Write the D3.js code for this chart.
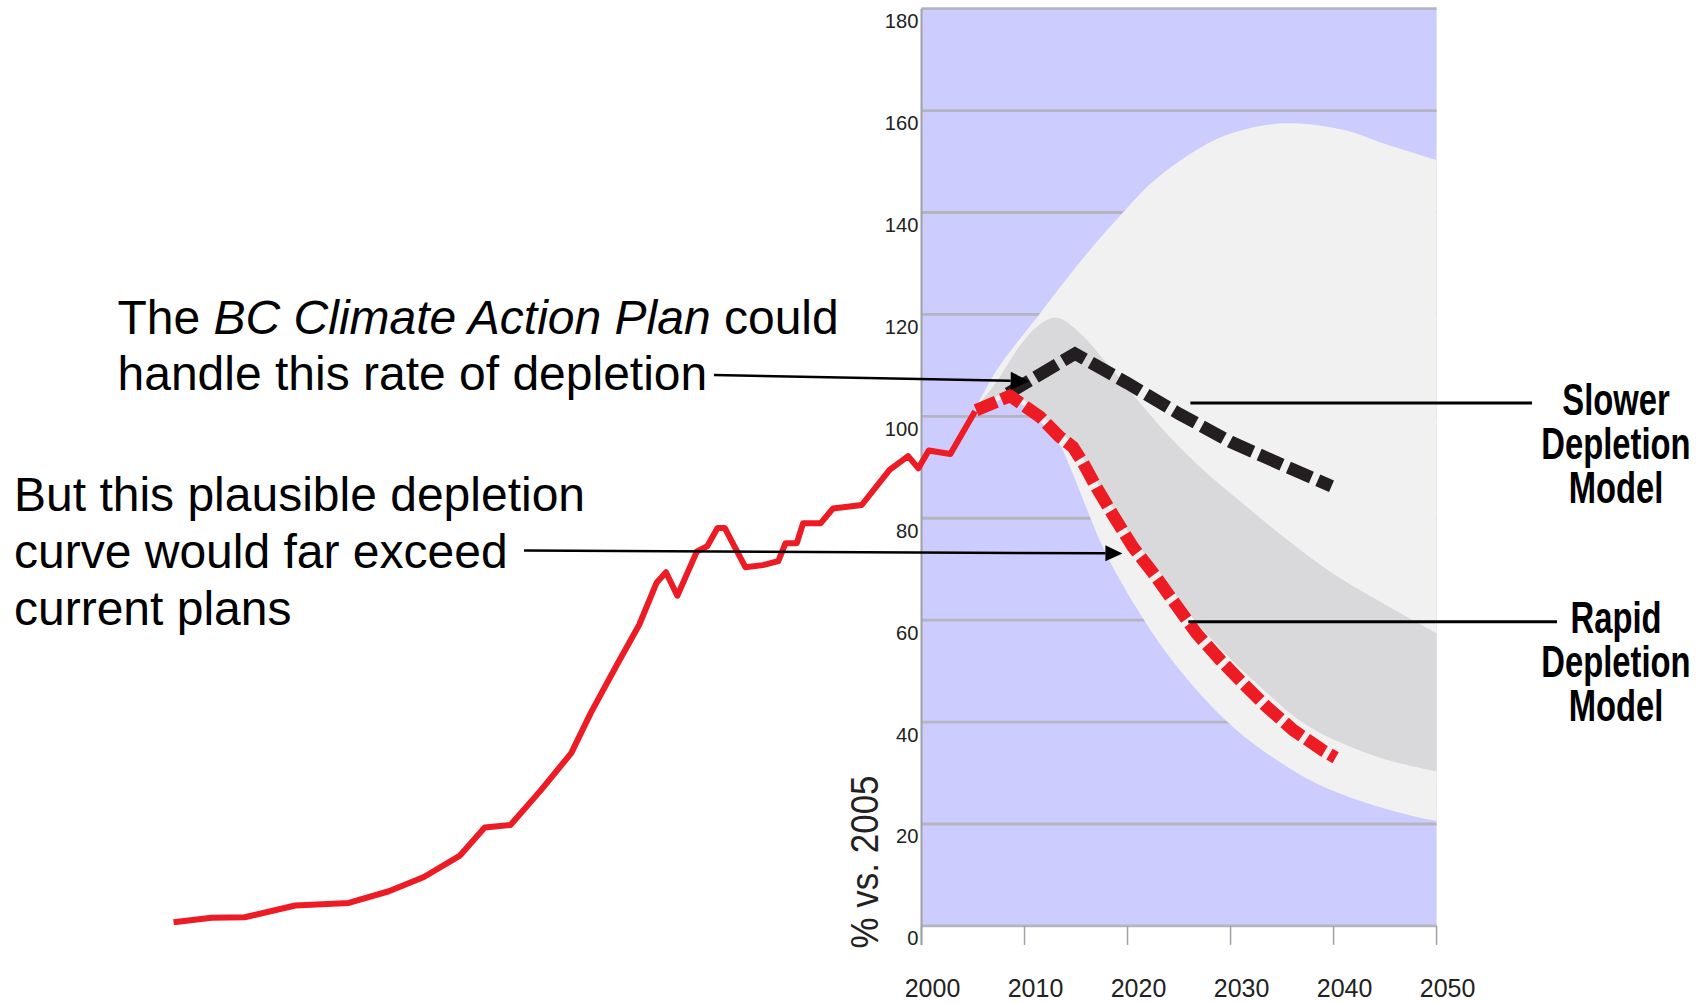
<!DOCTYPE html>
<html><head><meta charset="utf-8">
<script src="https://cdn.jsdelivr.net/npm/d3@7"></script>
<style>
html,body{margin:0;padding:0;background:#fff;}
svg{display:block;}
text{font-family:"Liberation Sans",Arial,Helvetica,sans-serif;}
</style>
</head><body>
<svg id="chart" width="1704" height="1003"></svg>
<script>
// ---------- data ----------
const yTicks = [0, 20, 40, 60, 80, 100, 120, 140, 160, 180];
const xTicks = [2000, 2010, 2020, 2030, 2040, 2050];
const yTitle = "% vs. 2005";

const histYears  = [1927.4, 1931.1, 1934.3, 1939.2, 1944.4, 1948.3, 1951.7, 1955.2, 1957.6, 1960.1, 1963.0, 1966.0, 1967.9, 1970.4, 1972.6, 1974.3, 1975.2, 1976.3, 1978.2, 1979.2, 1980.2, 1980.9, 1982.9, 1984.6, 1986.1, 1986.8, 1987.9, 1988.5, 1990.2, 1991.4, 1994.2, 1996.9, 1998.7, 1999.7, 2000.7, 2002.8, 2005.2];
const histValues = [0.7, 1.6, 1.7, 4.0, 4.5, 6.8, 9.6, 13.8, 19.3, 19.8, 26.5, 33.9, 41.8, 51.1, 59.1, 67.4, 69.4, 64.8, 73.5, 74.5, 78.1, 78.1, 70.4, 70.8, 71.6, 75.1, 75.1, 79.0, 79.0, 81.9, 82.6, 89.5, 92.2, 89.8, 93.3, 92.6, 101.0];

const rapidYears  = [2005.3, 2008.6, 2011.5, 2013.4, 2014.7, 2015.7, 2017.0, 2018.6, 2020.5, 2022.5, 2024.6, 2026.7, 2029.0, 2031.2, 2033.5, 2036.1, 2039.0, 2040.2];
const rapidValues = [101.2, 104.0, 99.9, 96.0, 94.0, 90.8, 86.0, 80.6, 74.4, 69.2, 63.3, 57.4, 52.2, 47.6, 43.0, 38.4, 34.4, 33.0];

const slowerYears  = [2008.4, 2014.9, 2020.0, 2025.0, 2030.0, 2035.0, 2039.8];
const slowerValues = [104.5, 112.3, 106.5, 100.5, 95.0, 90.5, 86.3];

// outer (light) envelope
const outerUpYears  = [2005.2, 2006.0, 2007.3, 2009.2, 2011.5, 2013.9, 2016.0, 2018.0, 2020.0, 2022.2, 2025.4, 2028.6, 2031.9, 2035.1, 2038.3, 2041.6, 2044.8, 2050];
const outerUpValues = [101.5, 104.5, 109.1, 114.3, 120.2, 126.5, 131.8, 136.5, 141.0, 145.6, 150.6, 154.4, 156.6, 157.5, 157.2, 155.9, 153.6, 150.3];
const outerLoYears  = [2005.2, 2008.6, 2011.5, 2013.4, 2014.4, 2015.7, 2017.3, 2018.9, 2021.2, 2023.8, 2027.0, 2030.2, 2033.5, 2038.3, 2043.2, 2048.0, 2050];
const outerLoValues = [101.0, 103.5, 99.0, 94.5, 90.1, 83.6, 75.7, 69.2, 61.3, 53.5, 45.6, 39.1, 33.9, 28.0, 24.1, 21.4, 20.6];

// inner (dark) envelope
const innerUpYears  = [2005.2, 2007.0, 2008.3, 2009.6, 2011.2, 2013.1, 2015.4, 2018.0, 2021.2, 2024.4, 2027.0, 2028.0, 2031.2, 2035.1, 2039.9, 2044.8, 2050];
const innerUpValues = [101.5, 106.0, 110.0, 114.0, 117.6, 119.4, 116.3, 110.4, 102.6, 95.3, 90.1, 88.3, 82.9, 76.4, 69.2, 63.3, 57.4];
const innerLoYears  = [2005.2, 2008.6, 2011.5, 2013.4, 2014.7, 2015.7, 2017.0, 2018.6, 2020.5, 2022.5, 2024.6, 2026.7, 2029.0, 2031.2, 2033.5, 2036.1, 2039.0, 2040.3, 2044.8, 2050];
const innerLoValues = [101.5, 104.5, 100.5, 96.8, 94.8, 91.8, 87.2, 82.0, 76.0, 71.0, 65.2, 59.5, 54.5, 50.0, 45.8, 41.2, 37.5, 36.3, 32.8, 30.3];

// annotation anchors (data coordinates)
const arrow1Tip = [2010.5, 106.9];
const arrow2Tip = [2019.5, 73.1];
const slowerLeaderStart = [2026.1, 102.6];
const rapidLeaderStart  = [2025.9, 59.7];

const note1Lines = [
  [{t:"The ", i:false}, {t:"BC Climate Action Plan", i:true}, {t:" could", i:false}],
  [{t:"handle this rate of depletion", i:false}]
];
const note2Lines = ["But this plausible depletion", "curve would far exceed", "current plans"];
const slowerLabel = ["Slower", "Depletion", "Model"];
const rapidLabel  = ["Rapid", "Depletion", "Model"];

// ---------- drawing ----------
const svg = d3.select("#chart");
const x = d3.scaleLinear().domain([2000, 2050]).range([921.5, 1436.6]);
const y = d3.scaleLinear().domain([0, 180]).range([925.9, 8.7]);

const C = {
  blue: "#ccccff", light: "#f1f1f1", dark: "#d9d9db",
  red: "#ed1c24", black: "#231f20", grid: "#b5b5c0", axis: "#a0a0aa"
};

// plot background
svg.append("rect")
  .attr("x", x(2000)).attr("y", y(180))
  .attr("width", x(2050) - x(2000)).attr("height", y(0) - y(180))
  .attr("fill", C.blue);

// gridlines
svg.append("g").selectAll("line").data(yTicks).join("line")
  .attr("x1", x(2000)).attr("x2", x(2050))
  .attr("y1", d => y(d)).attr("y2", d => y(d))
  .attr("stroke", C.grid).attr("stroke-width", 2.8);

// bands
const smooth = d3.line().x(d => x(d[0])).y(d => y(d[1])).curve(d3.curveCatmullRom.alpha(0.5));
function bandPath(upX, upV, loX, loV) {
  const up = smooth(d3.zip(upX, upV));
  const lo = smooth(d3.zip(loX, loV).reverse());
  return up + "L" + lo.slice(1) + "Z";
}
svg.append("path").attr("d", bandPath(outerUpYears, outerUpValues, outerLoYears, outerLoValues)).attr("fill", C.light);
svg.append("path").attr("d", bandPath(innerUpYears, innerUpValues, innerLoYears, innerLoValues)).attr("fill", C.dark);

// axes lines and ticks
svg.append("line").attr("x1", x(2000)).attr("x2", x(2000)).attr("y1", y(180)).attr("y2", y(0) + 19)
  .attr("stroke", C.axis).attr("stroke-width", 2);
svg.append("g").selectAll("line").data(xTicks).join("line")
  .attr("x1", d => x(d)).attr("x2", d => x(d))
  .attr("y1", y(0)).attr("y2", y(0) + 19)
  .attr("stroke", C.axis).attr("stroke-width", 1.5);

// y tick labels
svg.append("g").selectAll("text").data(yTicks).join("text")
  .attr("transform", d => `translate(${x(2000) - 3},${y(d) + 19.5}) scale(0.96,1)`)
  .attr("text-anchor", "end").attr("font-size", 21).attr("fill", "#222")
  .text(d => d);

// x tick labels
svg.append("g").selectAll("text").data(xTicks).join("text")
  .attr("x", d => x(d) + 11).attr("y", 997)
  .attr("text-anchor", "middle").attr("font-size", 25).attr("fill", "#222")
  .text(d => d);

// y title
svg.append("text")
  .attr("transform", `translate(878,948.5) rotate(-90) scale(1,1.12)`)
  .attr("text-anchor", "start").attr("font-size", 35).attr("fill", "#222")
  .text(yTitle);

// historical line
const lin = d3.line().x(d => x(d[0])).y(d => y(d[1]));
svg.append("path").attr("d", lin(d3.zip(histYears, histValues)))
  .attr("fill", "none").attr("stroke", C.red).attr("stroke-width", 6)
  .attr("stroke-linejoin", "round");

// slower (black dashed)
svg.append("path").attr("d", lin(d3.zip(slowerYears, slowerValues)))
  .attr("fill", "none").attr("stroke", C.black).attr("stroke-width", 12.5)
  .attr("stroke-dasharray", "25,7");

// rapid (red dashed)
svg.append("path").attr("d", lin(d3.zip(rapidYears, rapidValues)))
  .attr("fill", "none").attr("stroke", C.red).attr("stroke-width", 12.5)
  .attr("stroke-dasharray", "22,5.5");

// arrows
function arrow(x0, y0, tip, len, half) {
  const tx = x(tip[0]), ty = y(tip[1]);
  const ang = Math.atan2(ty - y0, tx - x0);
  const bx = tx - len * Math.cos(ang), by = ty - len * Math.sin(ang);
  svg.append("line").attr("x1", x0).attr("y1", y0).attr("x2", bx).attr("y2", by)
    .attr("stroke", "#000").attr("stroke-width", 2.5);
  const px = -Math.sin(ang) * half, py = Math.cos(ang) * half;
  svg.append("path")
    .attr("d", `M${tx},${ty}L${bx + px},${by + py}L${bx - px},${by - py}Z`)
    .attr("fill", "#000");
}
arrow(714, 375, arrow1Tip, 19, 9);
arrow(524, 550.5, arrow2Tip, 17, 8);

// leader lines
svg.append("line").attr("x1", x(slowerLeaderStart[0])).attr("y1", y(slowerLeaderStart[1]))
  .attr("x2", 1532).attr("y2", y(slowerLeaderStart[1])).attr("stroke", "#000").attr("stroke-width", 3);
svg.append("line").attr("x1", x(rapidLeaderStart[0])).attr("y1", y(rapidLeaderStart[1]))
  .attr("x2", 1557).attr("y2", y(rapidLeaderStart[1])).attr("stroke", "#000").attr("stroke-width", 3);

// note 1
const n1 = svg.append("g").attr("font-size", 48).attr("fill", "#000");
note1Lines.forEach((ln, i) => {
  const t = n1.append("text").attr("x", 117.5).attr("y", 333.5 + i * 56.5);
  ln.forEach(s => t.append("tspan").attr("font-style", s.i ? "italic" : "normal").text(s.t));
});
// note 2
svg.append("g").attr("font-size", 48).attr("fill", "#000")
  .selectAll("text").data(note2Lines).join("text")
  .attr("x", 14).attr("y", (d, i) => 510.5 + i * 57).text(d => d);

// model labels
function modelLabel(lines, baseY) {
  svg.append("g").selectAll("text").data(lines).join("text")
    .attr("transform", (d, i) => `translate(1616,${baseY + i * 44}) scale(0.745,1)`)
    .attr("text-anchor", "middle").attr("font-size", 44).attr("font-weight", "bold")
    .attr("fill", "#000").text(d => d);
}
modelLabel(slowerLabel, 414.5);
modelLabel(rapidLabel, 633);
</script>
</body></html>
